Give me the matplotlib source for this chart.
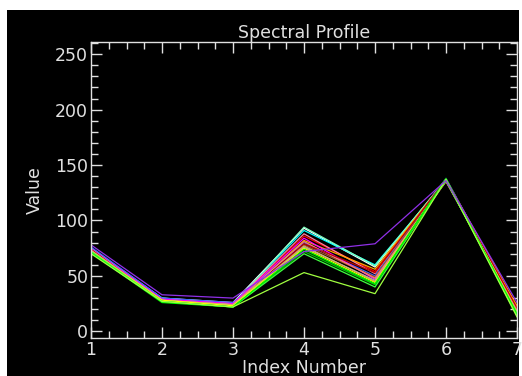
import matplotlib
matplotlib.use("Agg")
import matplotlib.pyplot as plt
from matplotlib.patches import Rectangle
from matplotlib.ticker import MultipleLocator

# index numbers (bands)
index_number = [1, 2, 3, 4, 5, 6, 7]

# one profile per pixel
profiles = {
    "white": [75, 30, 26, 93, 58, 137, 21],
    "cyan": [74, 30, 25, 91, 60, 136, 20],
    "#80ffc0": [73, 29, 24, 94, 59, 137, 19],
    "red": [74, 28, 24, 86, 54, 137, 22],
    "#ff80a0": [75, 29, 25, 88, 52, 136, 21],
    "orange": [73, 28, 24, 82, 56, 137, 23],
    "#4060ff": [76, 30, 26, 80, 50, 138, 20],
    "magenta": [74, 29, 25, 84, 47, 136, 19],
    "#a05020": [72, 27, 23, 78, 49, 137, 18],
    "salmon": [73, 28, 24, 81, 48, 135, 20],
    "#c00000": [74, 27, 23, 79, 53, 137, 21],
    "#b0b0b0": [73, 28, 24, 76, 46, 136, 17],
    "#d0b070": [73, 28, 24, 77, 45, 136, 18],
    "yellow": [72, 28, 23, 75, 44, 137, 16],
    "#00c000": [71, 27, 22, 72, 42, 138, 15],
    "#40ff40": [72, 27, 22, 70, 40, 137, 14],
    "#00ff00": [71, 26, 22, 74, 43, 136, 16],
    "#a0ff40": [70, 27, 22, 53, 34, 137, 13],
    "#9030e8": [78, 33, 30, 72, 79, 136, 26],
}

fig = plt.figure(figsize=(5.22, 3.76), dpi=100, facecolor="white")
# black canvas with a thin white margin on the top and left
fig.patches.append(Rectangle((7 / 522, 0), 512 / 522, 366 / 376,
                             transform=fig.transFigure, facecolor="black",
                             edgecolor="none", zorder=-1))

ax = fig.add_axes([91 / 522, 1 - 338 / 376, 426 / 522, 296 / 376])
ax.set_facecolor("black")

for color, values in profiles.items():
    ax.plot(index_number, values, color=color, linewidth=0.9)

ax.set_xlim(1, 7)
ax.set_ylim(-6, 261)
ax.xaxis.set_major_locator(MultipleLocator(1))
ax.xaxis.set_minor_locator(MultipleLocator(0.25))
ax.yaxis.set_major_locator(MultipleLocator(50))
ax.yaxis.set_minor_locator(MultipleLocator(10))

fg = "#e0e0e0"
for side in ax.spines.values():
    side.set_color(fg)
    side.set_linewidth(1.0)
ax.tick_params(which="both", direction="in", top=True, right=True, colors=fg,
               labelsize=12.5, width=1.0)
ax.tick_params(which="major", length=8, pad=2)
ax.tick_params(which="minor", length=5)

ax.set_title("Spectral Profile", color=fg, fontsize=12.5, pad=3)
ax.set_xlabel("Index Number", color=fg, fontsize=12.5, labelpad=0)
ax.set_ylabel("Value", color=fg, fontsize=12.5, labelpad=8)

fig.savefig("out.png", dpi=100, facecolor=fig.get_facecolor())
